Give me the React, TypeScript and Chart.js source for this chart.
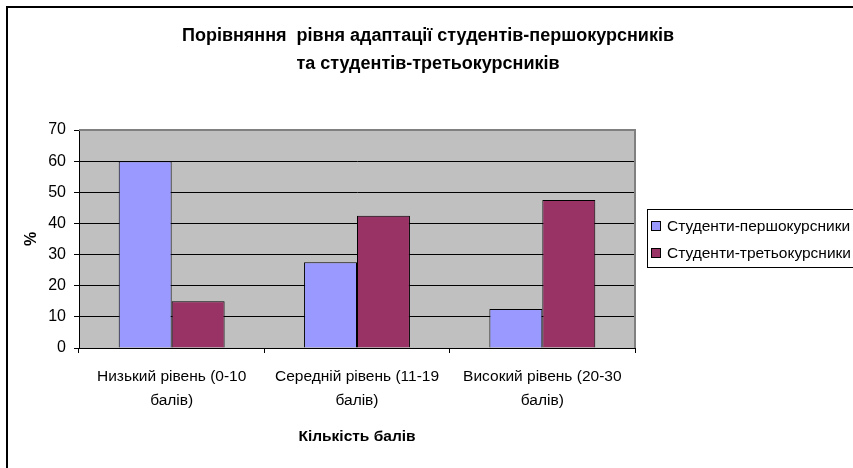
import React, { useEffect, useRef } from "react";
import { Chart, registerables } from "chart.js";

Chart.register(...registerables);

const titleLines = [
  "Порівняння  рівня адаптації студентів-першокурсників",
  "та студентів-третьокурсників",
];
const categories = [
  ["Низький рівень (0-10", "балів)"],
  ["Середній рівень (11-19", "балів)"],
  ["Високий рівень (20-30", "балів)"],
];
const seriesNames = ["Студенти-першокурсники", "Студенти-третьокурсники"];
const firstYear = [60, 27.5, 12.5];
const thirdYear = [15, 42.5, 47.5];
const seriesColors = ["#9999FF", "#993366"];
const yMin = 0;
const yMax = 70;
const yStep = 10;
const xTitle = "Кількість балів";
const yTitle = "%";

const FONT = "'Liberation Sans', Arial, sans-serif";

const decor = {
  id: "decor",
  beforeDraw(chart: any) {
    const { ctx, chartArea: a } = chart;
    ctx.save();
    ctx.fillStyle = "#ffffff";
    ctx.fillRect(0, 0, chart.width, chart.height);
    ctx.fillStyle = "#C0C0C0";
    ctx.fillRect(a.left, a.top, a.right - a.left, a.bottom - a.top);
    ctx.restore();
  },
  afterDraw(chart: any) {
    const { ctx, chartArea: a } = chart;
    ctx.save();
    // plot area top/right border (grey)
    ctx.strokeStyle = "#808080";
    ctx.lineWidth = 2;
    ctx.beginPath();
    ctx.moveTo(a.left, a.top);
    ctx.lineTo(a.right, a.top);
    ctx.lineTo(a.right, a.bottom);
    ctx.stroke();

    // outer chart border
    ctx.strokeStyle = "#000000";
    ctx.lineWidth = 2;
    ctx.beginPath();
    ctx.moveTo(7, chart.height + 5);
    ctx.lineTo(7, 7);
    ctx.lineTo(chart.width + 5, 7);
    ctx.stroke();

    // title
    ctx.fillStyle = "#000000";
    ctx.font = `bold 18px ${FONT}`;
    ctx.textAlign = "center";
    ctx.textBaseline = "middle";
    ctx.fillText(titleLines[0], 428, 36);
    ctx.fillText(titleLines[1], 428, 64);

    // legend
    ctx.lineWidth = 1;
    ctx.strokeStyle = "#000000";
    ctx.strokeRect(647.5, 209.5, 230, 58);
    ctx.font = `15.5px ${FONT}`;
    ctx.textAlign = "left";
    const rows = [226, 253];
    seriesNames.forEach((name, i) => {
      const y = rows[i];
      ctx.fillStyle = seriesColors[i];
      ctx.fillRect(651, y - 5, 10, 10);
      ctx.strokeRect(651.5, y - 4.5, 9, 9);
      ctx.fillStyle = "#000000";
      ctx.fillText(name, 667, y + 1);
    });
    ctx.restore();
  },
};

export default function App() {
  const ref = useRef<HTMLCanvasElement | null>(null);

  useEffect(() => {
    document.body.style.margin = "0";
    const canvas = ref.current;
    if (!canvas) return;
    const chart = new Chart(canvas, {
      type: "bar",
      data: {
        labels: categories,
        datasets: [
          {
            label: seriesNames[0],
            data: firstYear,
            backgroundColor: seriesColors[0],
            borderColor: "#000000",
            borderWidth: 1,
          },
          {
            label: seriesNames[1],
            data: thirdYear,
            backgroundColor: seriesColors[1],
            borderColor: "#000000",
            borderWidth: 1,
          },
        ],
      },
      options: {
        animation: false,
        responsive: true,
        maintainAspectRatio: false,
        devicePixelRatio: 1,
        layout: { padding: { left: 0, top: 130, right: 218, bottom: 0 } },
        plugins: {
          legend: { display: false },
          title: { display: false },
          tooltip: { enabled: false },
        },
        datasets: {
          bar: { categoryPercentage: 2 / 3.5, barPercentage: 1 },
        },
        scales: {
          x: {
            offset: true,
            afterFit: (s: any) => {
              s.height = 120;
            },
            grid: {
              display: true,
              drawOnChartArea: false,
              drawTicks: true,
              tickLength: 5,
              color: "#000000",
              offset: true,
            },
            border: { display: true, color: "#000000", width: 1 },
            ticks: {
              color: "#000000",
              font: { family: FONT, size: 15.5, lineHeight: 24 / 15.5 },
              padding: 12,
              maxRotation: 0,
              autoSkip: false,
            },
            title: {
              display: true,
              text: xTitle,
              color: "#000000",
              font: { family: FONT, size: 15.5, weight: "bold" },
              padding: { top: 0, bottom: 22 },
            },
          },
          y: {
            min: yMin,
            max: yMax,
            afterFit: (s: any) => {
              s.width = 79;
            },
            grid: {
              color: (c: any) => (c.tick && c.tick.value === yMax ? "rgba(0,0,0,0)" : "#000000"),
              tickColor: "#000000",
              tickLength: 5,
              drawTicks: true,
              lineWidth: 1,
            },
            border: { display: true, color: "#000000", width: 1 },
            ticks: {
              stepSize: yStep,
              color: "#000000",
              font: { family: FONT, size: 16 },
              padding: 8,
            },
            title: {
              display: true,
              text: yTitle,
              color: "#000000",
              font: { family: FONT, size: 16, weight: "bold" },
              padding: { top: 22, bottom: 0 },
            },
          },
        },
      },
      plugins: [decor],
    });
    return () => chart.destroy();
  }, []);

  return (
    <div style={{ width: 853, height: 468, position: "relative", overflow: "hidden" }}>
      <style>{`body{margin:0;overflow:hidden}`}</style>
      <canvas ref={ref} />
    </div>
  );
}
